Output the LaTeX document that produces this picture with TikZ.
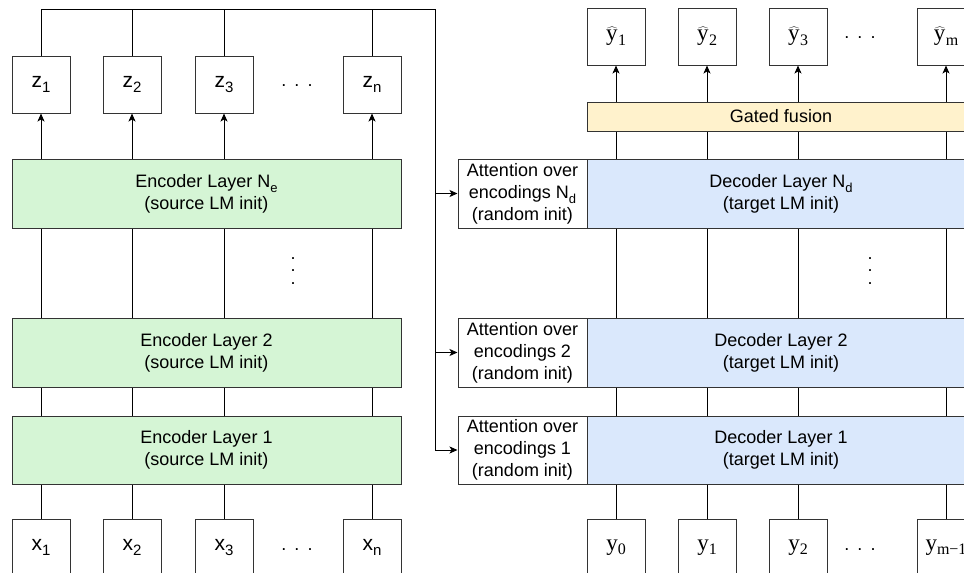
\documentclass[tikz,border=0pt]{standalone}
\usepackage{fontspec}
\setmainfont{Liberation Sans}
\newfontfamily\serifY{Liberation Serif}
\usetikzlibrary{arrows.meta}
\definecolor{encgreen}{HTML}{D5F5D5}
\definecolor{decblue}{HTML}{DAE8FC}
\definecolor{gateyellow}{HTML}{FFF2CC}
\definecolor{edgegray}{HTML}{333333}
\newcommand\mysub[1]{\raisebox{-0.28em}{\fontsize{13}{13}\selectfont #1}}
\newcommand\zsub[1]{\raisebox{-0.25em}{\fontsize{15}{15}\selectfont #1}}
\newcommand\ysub[1]{\raisebox{-0.18em}{\fontsize{16}{16}\selectfont #1}}
\newcommand\yhat{\ensuremath{\widehat{\hbox{\serifY y\kern0.5pt}}}}
\tikzset{
  basefont/.style={font=\fontsize{18}{22}\selectfont},
  tok/.style={draw=edgegray, line width=1pt, fill=white, minimum width=58pt, minimum height=57pt, inner sep=0pt, font=\fontsize{21}{22}\selectfont},
  ytok/.style={tok, font=\fontsize{23}{24}\selectfont\serifY},
  enclayer/.style={draw=edgegray, line width=1pt, fill=encgreen, minimum width=389pt, minimum height=69pt, inner sep=0pt, align=center, basefont},
  declayer/.style={draw=edgegray, line width=1pt, fill=decblue, minimum width=388pt, minimum height=69pt, inner sep=0pt, align=center, basefont},
  attbox/.style={draw=edgegray, line width=1pt, fill=white, minimum width=129pt, minimum height=69pt, inner sep=0pt, align=center, basefont},
  gatebox/.style={draw=edgegray, line width=1pt, fill=gateyellow, minimum width=388pt, minimum height=29pt, inner sep=0pt, basefont},
  hdots/.style={basefont},
  vdotsnode/.style={font=\fontsize{18}{12.5}\selectfont, align=center, inner sep=0pt},
  ln/.style={draw=black, line width=1pt},
  ar/.style={ln, -{Stealth[length=8pt,width=7pt,inset=2pt]}}
}
\begin{document}
\begin{tikzpicture}[x=1pt,y=-1pt]
\useasboundingbox (0,0) rectangle (964,573);
\clip (0,0) rectangle (964,573);

% ---------------- Encoder side ----------------
\node[tok] (z1) at (41,84.5) {z\zsub{1}};
\node[tok] (z2) at (132,84.5) {z\zsub{2}};
\node[tok] (z3) at (224,84.5) {z\zsub{3}};
\node[tok] (zn) at (372,84.5) {z\zsub{n}};
\node[hdots] (zdots) at (297,86) {.\hspace{0.45em}.\hspace{0.45em}.};

\node[enclayer] (EN) at (206.5,193.5) {Encoder Layer N\mysub{e}\\(source LM init)};
\node[enclayer] (E2) at (206.5,352.5) {Encoder Layer 2\\(source LM init)};
\node[enclayer, minimum height=68pt] (E1) at (206.5,450) {Encoder Layer 1\\(source LM init)};
\node[vdotsnode] (evd) at (293,271) {.\\.\\.};

\node[tok] (x1) at (41,547.5) {x\zsub{1}};
\node[tok] (x2) at (132,547.5) {x\zsub{2}};
\node[tok] (x3) at (224,547.5) {x\zsub{3}};
\node[tok] (xn) at (372,547.5) {x\zsub{n}};
\node[hdots] (xdots) at (297,550) {.\hspace{0.45em}.\hspace{0.45em}.};

\foreach \c in {1,2,3,n}{
  \draw[ln] (x\c.north) -- (x\c.north |- E1.south);
  \draw[ln] (E1.north -| x\c) -- (E2.south -| x\c);
  \draw[ln] (E2.north -| x\c) -- (EN.south -| x\c);
  \draw[ar] (EN.north -| z\c) -- (z\c.south);
}

% ---------------- Decoder side ----------------
\node[ytok] (h1) at (616,36.5) {\yhat\ysub{1}};
\node[ytok] (h2) at (707,36.5) {\yhat\ysub{2}};
\node[ytok] (h3) at (798,36.5) {\yhat\ysub{3}};
\node[ytok] (hm) at (946,36.5) {\yhat\ysub{m}};
\node[hdots] (hdots) at (860,38) {.\hspace{0.45em}.\hspace{0.45em}.};

\node[gatebox] (G) at (781,116.5) {Gated fusion};

\node[declayer] (DN) at (781,193.5) {Decoder Layer N\mysub{d}\\(target LM init)};
\node[attbox] (AN) at (522.5,193.5) {Attention over\\encodings N\mysub{d}\\(random init)};
\node[declayer] (D2) at (781,352.5) {Decoder Layer 2\\(target LM init)};
\node[attbox] (A2) at (522.5,352.5) {Attention over\\encodings 2\\(random init)};
\node[declayer, minimum height=68pt] (D1) at (781,450) {Decoder Layer 1\\(target LM init)};
\node[attbox, minimum height=68pt] (A1) at (522.5,450) {Attention over\\encodings 1\\(random init)};
\node[vdotsnode] (dvd) at (870,271) {.\\.\\.};

\node[ytok] (y0) at (616,547.5) {y\ysub{0}};
\node[ytok] (y1) at (707,547.5) {y\ysub{1}};
\node[ytok] (y2) at (798,547.5) {y\ysub{2}};
\node[ytok] (ym) at (946,547.5) {y\ysub{m−1}};
\node[hdots] (ydots) at (860,550) {.\hspace{0.45em}.\hspace{0.45em}.};

\foreach \a/\b in {y0/h1,y1/h2,y2/h3,ym/hm}{
  \draw[ln] (\a.north) -- (\a.north |- D1.south);
  \draw[ln] (D1.north -| \a) -- (D2.south -| \a);
  \draw[ln] (D2.north -| \a) -- (DN.south -| \a);
  \draw[ln] (DN.north -| \b) -- (G.south -| \b);
  \draw[ar] (G.north -| \b) -- (\b.south);
}

% ---------------- Encoding bus ----------------
\coordinate (bus) at (435,9);
\draw[ln] (z1.north) |- (bus) -- (bus |- A1.west);
\foreach \c in {2,3,n}{
  \draw[ln] (z\c.north) -- (z\c.north |- bus);
}
\draw[ar] (bus |- AN.west) -- (AN.west);
\draw[ar] (bus |- A2.west) -- (A2.west);
\draw[ar] (bus |- A1.west) -- (A1.west);
\end{tikzpicture}
\end{document}
